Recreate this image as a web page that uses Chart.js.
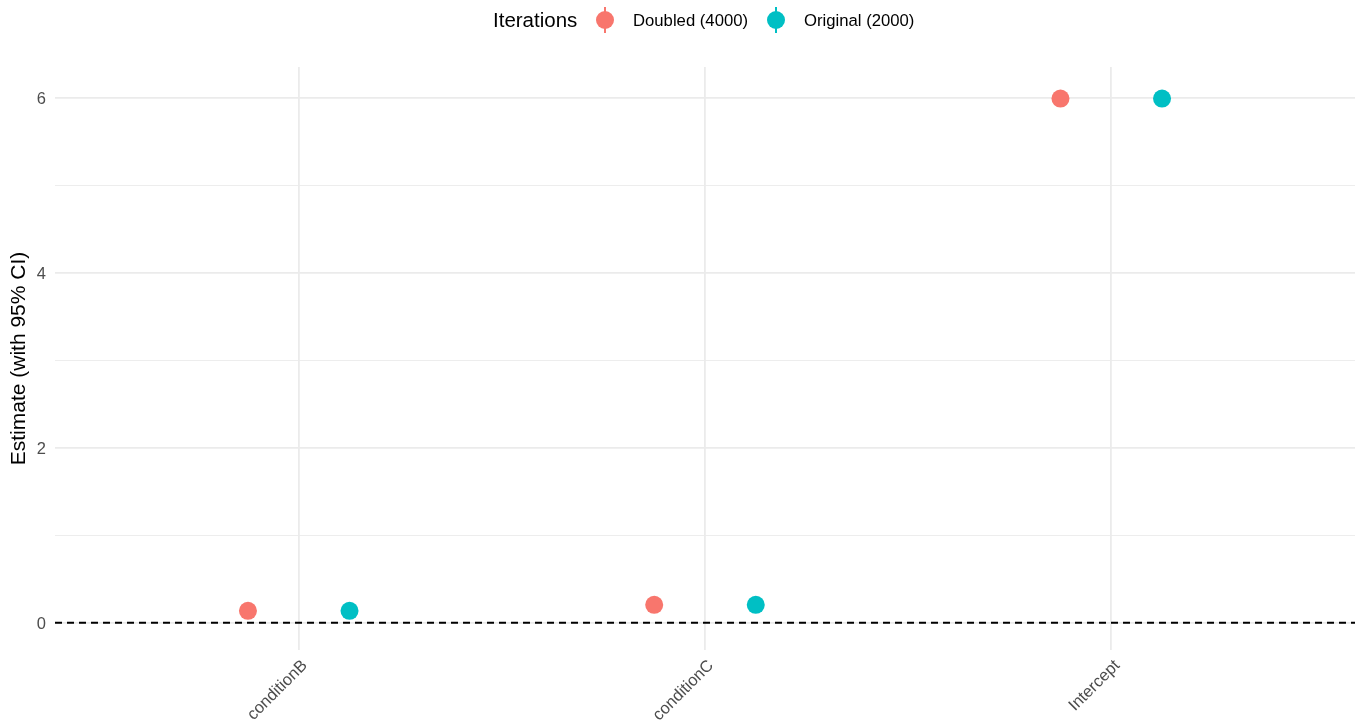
<!DOCTYPE html>
<html>
<head>
<meta charset="utf-8">
<script src="https://cdn.jsdelivr.net/npm/chart.js@4"></script>
<style>
html, body { margin: 0; padding: 0; background: #fff; overflow: hidden; }
canvas { display: block; }
</style>
</head>
<body>
<canvas id="myChart" width="1356" height="721"></canvas>
<script>
const terms = ['conditionB', 'conditionC', 'Intercept'];
const seriesNames = ['Doubled (4000)', 'Original (2000)'];
const seriesColors = ['#F8766D', '#00BFC4'];
const doubledEst = [0.137, 0.206, 5.99];
const doubledLow = [0.10, 0.17, 5.95];
const doubledHigh = [0.17, 0.24, 6.03];
const originalEst = [0.137, 0.206, 5.99];
const originalLow = [0.10, 0.17, 5.95];
const originalHigh = [0.17, 0.24, 6.03];
const yTicks = [0, 1, 2, 3, 4, 5, 6];
const yLabels = [0, 2, 4, 6];

const FONT = "'Liberation Sans', Arial, sans-serif";
const dodge = [-0.125, 0.125];

function points(est, low, high, k) {
    return est.map((v, i) => ({ x: i + 1 + dodge[k], y: v, low: low[i], high: high[i] }));
}

// vertical CI whiskers under each point
const errorBars = {
    id: 'errorBars',
    beforeDatasetsDraw(chart) {
        const { ctx, scales: { y } } = chart;
        chart.data.datasets.forEach((ds, di) => {
            if (ds.type === 'line') return;
            const meta = chart.getDatasetMeta(di);
            meta.data.forEach((el, i) => {
                const raw = ds.data[i];
                ctx.save();
                ctx.strokeStyle = ds.backgroundColor;
                ctx.lineWidth = 2;
                ctx.beginPath();
                ctx.moveTo(el.x, y.getPixelForValue(raw.low));
                ctx.lineTo(el.x, y.getPixelForValue(raw.high));
                ctx.stroke();
                ctx.restore();
            });
        });
    }
};

// legend in one row: title, then glyph + label per series
const topLegend = {
    id: 'topLegend',
    afterDraw(chart) {
        const ctx = chart.ctx;
        const cy = 20;
        ctx.save();
        ctx.textBaseline = 'middle';
        ctx.fillStyle = '#000';
        ctx.font = '20.5px ' + FONT;
        ctx.fillText('Iterations', 493, cy + 1);
        const glyphX = [605, 776];
        const textX = [633, 804];
        seriesNames.forEach((name, k) => {
            ctx.strokeStyle = seriesColors[k];
            ctx.fillStyle = seriesColors[k];
            ctx.lineWidth = 2;
            ctx.beginPath();
            ctx.moveTo(glyphX[k], cy - 13);
            ctx.lineTo(glyphX[k], cy + 13);
            ctx.stroke();
            ctx.beginPath();
            ctx.arc(glyphX[k], cy, 9, 0, Math.PI * 2);
            ctx.fill();
            ctx.fillStyle = '#000';
            ctx.font = '16.7px ' + FONT;
            ctx.fillText(name, textX[k], cy + 1);
        });
        ctx.restore();
    }
};

const ctx = document.getElementById('myChart');

new Chart(ctx, {
    type: 'scatter',
    data: {
        datasets: [
            {
                label: seriesNames[0],
                data: points(doubledEst, doubledLow, doubledHigh, 0),
                backgroundColor: seriesColors[0],
                borderWidth: 0,
                pointRadius: 9,
                pointHoverRadius: 9,
                order: 1
            },
            {
                label: seriesNames[1],
                data: points(originalEst, originalLow, originalHigh, 1),
                backgroundColor: seriesColors[1],
                borderWidth: 0,
                pointRadius: 9,
                pointHoverRadius: 9,
                order: 1
            },
            {
                // reference line at zero
                type: 'line',
                data: [{ x: 0.4, y: 0 }, { x: 3.6, y: 0 }],
                borderColor: '#000',
                borderWidth: 2,
                borderDash: [7, 5],
                pointRadius: 0,
                order: 2
            }
        ]
    },
    options: {
        responsive: false,
        animation: false,
        layout: { autoPadding: false, padding: { top: 67, right: 1, left: 0, bottom: 0 } },
        plugins: {
            legend: { display: false },
            tooltip: { enabled: false }
        },
        scales: {
            x: {
                type: 'linear',
                min: 0.4,
                max: 3.6,
                afterBuildTicks: (s) => { s.ticks = terms.map((t, i) => ({ value: i + 1 })); },
                afterFit: (s) => { s.height = 71; s.paddingLeft = 0; s.paddingRight = 0; },
                border: { display: false },
                grid: { color: '#EBEBEB', lineWidth: 1.8, drawTicks: false },
                ticks: {
                    autoSkip: false,
                    minRotation: 45,
                    maxRotation: 45,
                    padding: 6,
                    labelOffset: 6,
                    color: '#4D4D4D',
                    font: { family: FONT, size: 16.5 },
                    callback: (v) => terms[v - 1]
                }
            },
            y: {
                min: -0.31,
                max: 6.35,
                afterBuildTicks: (s) => { s.ticks = yTicks.map(v => ({ value: v })); },
                afterFit: (s) => { s.width = 55; s.paddingTop = 0; s.paddingBottom = 0; },
                border: { display: false },
                grid: {
                    color: '#EBEBEB',
                    lineWidth: (c) => (yLabels.includes(c.tick.value) ? 1.8 : 0.9),
                    drawTicks: false
                },
                ticks: {
                    autoSkip: false,
                    padding: 9,
                    labelOffset: 1.5,
                    color: '#4D4D4D',
                    font: { family: FONT, size: 16.5 },
                    callback: (v) => (yLabels.includes(v) ? String(v) : '')
                },
                title: {
                    display: true,
                    text: 'Estimate (with 95% CI)',
                    color: '#000',
                    font: { family: FONT, size: 21 },
                    padding: { top: 7, bottom: 0 }
                }
            }
        }
    },
    plugins: [errorBars, topLegend]
});
</script>
</body>
</html>
